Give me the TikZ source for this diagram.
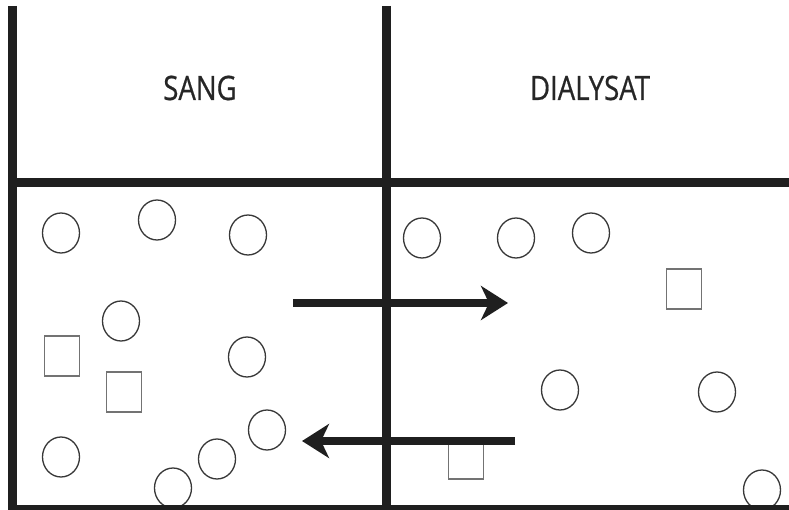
\documentclass[tikz,border=0pt]{standalone}
\usepackage{fontspec}
\newfontfamily\lblfont[FakeStretch=0.82,FakeBold=0.6]{Open Sans}
\usetikzlibrary{arrows.meta,shapes.geometric}
\tikzset{
  wall/.style={line width=8.5pt, draw=black!88},
  flow/.style={line width=8pt, draw=black!88,
    -{Stealth[length=27pt,width=34pt,inset=8pt]}},
  mol/.style={ellipse, draw=black!78, line width=1.3pt, inner sep=0pt,
    minimum width=37pt, minimum height=40pt},
  ion/.style={rectangle, draw=black!55, line width=1.3pt, inner sep=0pt,
    minimum width=35pt, minimum height=40pt, fill=white},
  title/.style={font=\lblfont\fontsize{33.6}{40}\selectfont, text=black!85}
}
\begin{document}
\begin{tikzpicture}[x=1pt,y=-1pt]
\useasboundingbox (0,0) rectangle (789,510);
\fill[white] (0,0) rectangle (789,510);

% compartment labels
\node[title] (sang) at (200,88) {SANG};
\node[title] (dial) at (590,88) {DIALYSAT};

% blood side particles
\node[mol] (b1) at (61,233) {};
\node[mol] (b2) at (157,220) {};
\node[mol] (b3) at (248,235) {};
\node[mol] (b4) at (121,321) {};
\node[mol] (b5) at (247,357) {};
\node[mol] (b6) at (267,430) {};
\node[mol] (b7) at (217,459) {};
\node[mol] (b8) at (61,457) {};
\node[mol] (b9) at (173,488) {};
\node[ion] (bs1) at (62,356) {};
\node[ion] (bs2) at (124,392) {};

% dialysate side particles
\node[mol] (d1) at (422,238) {};
\node[mol] (d2) at (516,238) {};
\node[mol] (d3) at (591,233) {};
\node[mol] (d4) at (560,390) {};
\node[mol] (d5) at (717,392) {};
\node[mol] (d6) at (762,490) {};
\node[ion] (ds1) at (684,289) {};
\node[ion] (ds2) at (466,459) {};

% frame: outer wall, membrane and separator
\coordinate (lt) at (12.5,6);
\coordinate (lb) at (12.5,514);
\coordinate (mt) at (386.5,6);
\coordinate (mb) at (386.5,514);
\coordinate (hl) at (8,182.5);
\coordinate (hr) at (795,182.5);
\coordinate (bl) at (8,509);
\coordinate (br) at (795,509);
\draw[wall] (hl) -- (hr);
\draw[wall] (bl) -- (br);
\draw[wall] (lt) -- (lb);
\draw[wall] (mt) -- (mb);

% exchange across the membrane
\coordinate (a1s) at (293,303);
\coordinate (a1e) at (508,303);
\coordinate (a2s) at (515,441);
\coordinate (a2e) at (302,441);
\draw[flow] (a1s) -- (a1e);
\draw[flow] (a2s) -- (a2e);
\end{tikzpicture}
\end{document}
